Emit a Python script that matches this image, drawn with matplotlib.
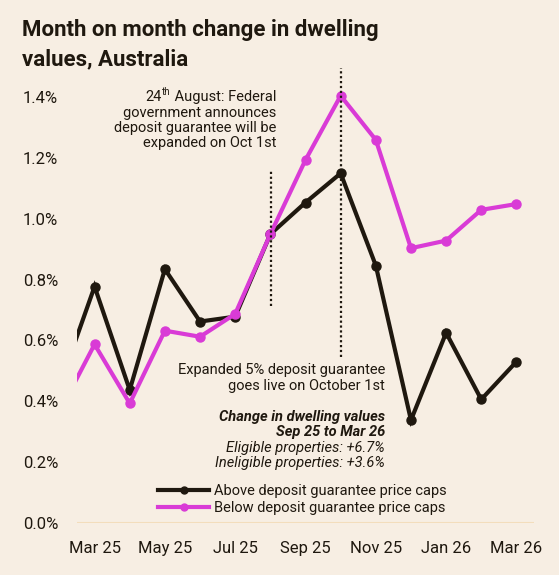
import matplotlib
matplotlib.use("Agg")
import matplotlib.pyplot as plt
from matplotlib.lines import Line2D
from matplotlib.transforms import offset_copy

plt.rcParams['font.family'] = ['Roboto', 'DejaVu Sans']

# monthly change in dwelling values (%), Feb 25 .. Mar 26
months = ['Feb 25', 'Mar 25', 'Apr 25', 'May 25', 'Jun 25', 'Jul 25', 'Aug 25',
          'Sep 25', 'Oct 25', 'Nov 25', 'Dec 25', 'Jan 26', 'Feb 26', 'Mar 26']
above_caps = [0.45, 0.777, 0.437, 0.834, 0.662, 0.678, 0.949,
              1.053, 1.149, 0.846, 0.338, 0.625, 0.406, 0.530]
below_caps = [0.365, 0.587, 0.393, 0.632, 0.612, 0.687, 0.949,
              1.193, 1.404, 1.259, 0.903, 0.928, 1.029, 1.048]
tick_months = ['Mar 25', 'May 25', 'Jul 25', 'Sep 25', 'Nov 25', 'Jan 26', 'Mar 26']
y_ticks = [0.0, 0.2, 0.4, 0.6, 0.8, 1.0, 1.2, 1.4]

BG = '#F7EEE3'
DARK = '#1F180F'
PINK = '#D93BD6'
W, H = 559, 575

fig = plt.figure(figsize=(W / 100, H / 100), dpi=100, facecolor=BG)
ax = fig.add_axes([77 / W, 1 - 523 / H, (534 - 77) / W, (523 - 66.5) / H])
ax.set_facecolor(BG)

x = list(range(len(months)))
ax.plot(x, above_caps, color=DARK, lw=3, marker='o', ms=6.5, zorder=3,
        solid_joinstyle='miter')
ax.plot(x, below_caps, color=PINK, lw=3, marker='o', ms=6.5, zorder=4,
        solid_joinstyle='miter')

ax.set_xlim(0.5, 13.5)
ax.set_ylim(0, 1.5)
ax.axhline(0, color='#F3DDBC', lw=1.5, zorder=1)

# event markers
ax.plot([6.02, 6.02], [0.713, 1.16], color=DARK, lw=1.6, ls=(0, (1, 1.2)), zorder=5)
ax.plot([8.0, 8.0], [0.547, 1.495], color=DARK, lw=1.6, ls=(0, (1, 1.2)),
        zorder=5, clip_on=False)

for s in ax.spines.values():
    s.set_visible(False)
ax.set_xticks([months.index(m) for m in tick_months])
ax.set_xticklabels(tick_months, fontsize=12, color=DARK)
ax.tick_params(axis='x', length=0, pad=13)
ax.set_yticks(y_ticks)
ax.set_yticklabels([f'{v:.1f}%' for v in y_ticks], fontsize=12, color=DARK,
                   ha='left')
ax.tick_params(axis='y', length=0, pad=39)


def ftext(px, py, s, **kw):
    return fig.text(px / W, 1 - py / H, s, color=DARK, **kw)


ftext(22, 30, 'Month on month change in dwelling', fontsize=16,
      fontweight='bold', va='center')
ftext(22, 59, 'values, Australia', fontsize=16, fontweight='bold', va='center')

# first line has a superscript "th", built from three pieces
renderer = fig.canvas.get_renderer()
tail = ftext(276, 97, ' August: Federal', fontsize=10.5, ha='right', va='center')
tail_w = tail.get_window_extent(renderer).width
sup = fig.text(276 / W, 1 - 97 / H, 'th', color=DARK, fontsize=7, ha='right',
               va='center',
               transform=offset_copy(fig.transFigure, fig, x=-tail_w * 0.72,
                                     y=3.5, units='points'))
sup_w = sup.get_window_extent(renderer).width
fig.text(276 / W, 1 - 97 / H, '24', color=DARK, fontsize=10.5, ha='right',
         va='center',
         transform=offset_copy(fig.transFigure, fig,
                               x=-(tail_w + sup_w) * 0.72, y=0, units='points'))

note1 = ['government announces', 'deposit guarantee will be', 'expanded on Oct 1st']
for i, line in enumerate(note1):
    ftext(276, 112.5 + i * 15.5, line, fontsize=10.5, ha='right', va='center')

note2 = ['Expanded 5% deposit guarantee', 'goes live on October 1st']
for i, line in enumerate(note2):
    ftext(385, 370 + i * 16, line, fontsize=10.5, ha='right', va='center')

ftext(385, 416.5, 'Change in dwelling values', fontsize=10.5, ha='right',
      va='center', fontweight='bold', style='italic')
ftext(385, 432, 'Sep 25 to Mar 26', fontsize=10.5, ha='right', va='center',
      fontweight='bold', style='italic')
ftext(385, 448, 'Eligible properties: +6.7%', fontsize=10.5, ha='right',
      va='center', style='italic')
ftext(385, 463.5, 'Ineligible properties: +3.6%', fontsize=10.5, ha='right',
      va='center', style='italic')

handles = [Line2D([], [], color=DARK, lw=3, marker='o', ms=5),
           Line2D([], [], color=PINK, lw=3, marker='o', ms=5)]
leg = fig.legend(handles, ['Above deposit guarantee price caps',
                           'Below deposit guarantee price caps'],
                 loc='upper left', bbox_to_anchor=(158 / W, 1 - 484 / H),
                 frameon=False, fontsize=10.5, handlelength=3.5,
                 handletextpad=0.35, labelspacing=0.2, borderpad=0,
                 borderaxespad=0, numpoints=1)
for t in leg.get_texts():
    t.set_color(DARK)

fig.savefig('out.png', dpi=100, facecolor=BG)
